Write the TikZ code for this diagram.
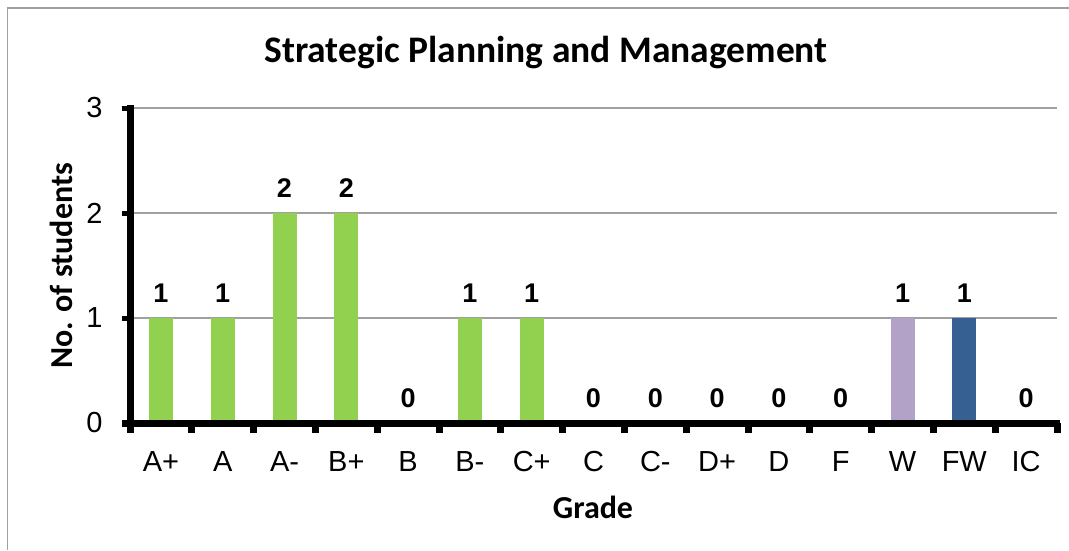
\documentclass[tikz,border=0pt]{standalone}
\usepackage{fontspec}
\setmainfont{Liberation Sans}
\newfontfamily\calib{Carlito}
\usepackage{tikz}
\definecolor{barG}{HTML}{92D050}
\definecolor{barW}{HTML}{B3A2C7}
\definecolor{barFW}{HTML}{376092}
\definecolor{gridG}{HTML}{A0A0A0}
\tikzset {
	frame/.style={draw=gridG, line width=1.8pt},
	gridline/.style={draw=gridG, line width=1.6pt},
	axis/.style={draw=black, line width=7pt},
	catlabel/.style={font=\fontsize{29}{31}\selectfont},
	ticklabel/.style={font=\fontsize{29}{31}\selectfont, anchor=east},
	vallabel/.style={font=\fontsize{27}{29}\selectfont\bfseries},
	axtitle/.style={font=\calib\fontsize{32}{34}\selectfont\bfseries}
}

\begin{document}
\begin{tikzpicture}[x=1pt, y=-1pt]
	\useasboundingbox (0,0) rectangle (1069,550);
	\draw[frame] (7.5,550) |- (1069,8);
	\node[font=\calib\fontsize{37.5}{40}\selectfont\bfseries] (title) at (546,53) {Strategic Planning and Management};
	% gridlines and value ticks
	\foreach \v/\y in {0/423, 1/318, 2/213, 3/108} {
		\ifnum\v>0 \draw[gridline] (130,\y) -- (1057,\y); \fi
		\fill (122,\y-2.5) rectangle (130,\y+2.5);
		\node[ticklabel] (tick\v) at (106,\y) {\v};
	}
	% bars
	\foreach \g/\v/\c [count=\i] in {A+/1/barG, A/1/barG, A-/2/barG, B+/2/barG, B/0/barG, B-/1/barG, C+/1/barG, C/0/barG, C-/0/barG, D+/0/barG, D/0/barG, F/0/barG, W/1/barW, FW/1/barFW, IC/0/barG} {
		\pgfmathsetmacro\xc{130+(\i-0.5)*61.8}
		\pgfmathsetmacro\yt{423-105*\v}
		\ifnum\v>0 \fill[\c] (\xc-12,423) rectangle (\xc+12,\yt); \fi
		\node[vallabel] (val\i) at (\xc,\yt-25) {\v};
		\node[catlabel] (cat\i) at (\xc,462) {\g};
	}
	% axes
	\draw[axis] (130,105) -- (130,427);
	\draw[axis] (122,423.5) -- (1060,423.5);
	\foreach \k in {0,...,15}
		\fill (130+\k*61.8-3.5,423) rectangle (130+\k*61.8+3.5,433);
	\node[axtitle] (xtitle) at (593,507) {Grade};
	\node[axtitle, rotate=90] (ytitle) at (61,266) {No. of students};
\end{tikzpicture}
\end{document}
